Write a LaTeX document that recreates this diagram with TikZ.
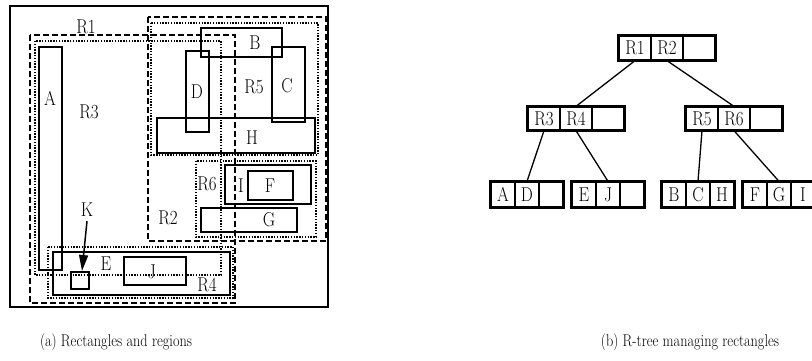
\documentclass[tikz,border=0pt]{standalone}
\usetikzlibrary{arrows.meta}
\newcommand{\nar}[2][0.85]{\scalebox{#1}[1]{#2}}
\begin{document}
\begin{tikzpicture}[x=1pt,y=-1pt,
  lbl/.style={inner sep=0pt,font=\fontsize{20}{23}\selectfont},
  captext/.style={inner sep=0pt,font=\fontsize{17}{20}\selectfont},
  solidrect/.style={draw,line width=2pt},
  dashreg/.style={draw,line width=2pt,dash pattern=on 6pt off 3pt},
  dotreg/.style={draw,line width=2pt,dash pattern=on 1.4pt off 1.4pt},
  frame/.style={draw,line width=1.5pt},
  cellA/.style={draw,line width=1.3pt,inner sep=0pt,minimum width=32pt,minimum height=24pt,font=\fontsize{20}{23}\selectfont},
  cellL/.style={draw,line width=1.3pt,inner sep=0pt,minimum width=24pt,minimum height=25pt,font=\fontsize{20}{23}\selectfont},
  grp/.style={draw,line width=2pt},
  edge/.style={draw,line width=1.3pt}]
\useasboundingbox (0,0) rectangle (812,360);
% ---------- (a) ----------
\draw[frame] (10,6) rectangle (328,307);
% regions (dashed)
\draw[dashreg] (30,35) rectangle (235,303);
\draw[dashreg] (148,17) rectangle (326,241);
% regions (dotted)
\draw[dotreg] (35,41) rectangle (221,275);
\draw[dotreg] (151,23) rectangle (318,155);
\draw[dotreg] (196,161) rectangle (316,237);
\draw[dotreg] (48,247) rectangle (233,298);
% rectangles
\draw[solidrect] (39,47) rectangle (62,270);
\draw[solidrect] (201,28) rectangle (282,57);
\draw[solidrect] (272,47) rectangle (305,122);
\draw[solidrect] (186,51) rectangle (209,132);
\draw[solidrect] (157,118) rectangle (315,153);
\draw[solidrect] (225,165) rectangle (311,204);
\draw[solidrect] (248,171) rectangle (293,200);
\draw[solidrect] (201,208) rectangle (297,232);
\draw[solidrect] (53,252) rectangle (230,295);
\draw[solidrect] (124,257) rectangle (186,285);
\draw[solidrect] (71,272) rectangle (89,289);
% labels
\node[lbl] (lR1) at (86,27) {\nar{R1}};
\node[lbl] (lA) at (50,98) {\nar{A}};
\node[lbl] (lR3) at (89,112) {\nar{R3}};
\node[lbl] (lD) at (197,92) {\nar{D}};
\node[lbl] (lB) at (255,43) {\nar{B}};
\node[lbl] (lR5) at (254,87) {\nar{R5}};
\node[lbl] (lC) at (287,86) {\nar{C}};
\node[lbl] (lH) at (252,138) {\nar{H}};
\node[lbl] (lR6) at (207,184) {\nar{R6}};
\node[lbl] (lI) at (241,186) {\nar{I}};
\node[lbl] (lF) at (270,186) {\nar{F}};
\node[lbl] (lR2) at (168,218) {\nar{R2}};
\node[lbl] (lG) at (269,220) {\nar{G}};
\node[lbl] (lK) at (87,210) {\nar{K}};
\node[lbl] (lE) at (106,264) {\nar{E}};
\node[lbl] (lJ) at (152,272) {\nar{J}};
\node[lbl] (lR4) at (207,285) {\nar{R4}};
\coordinate (ktip) at (82,271);
\draw[line width=1.5pt,-{Triangle[length=16pt,width=9pt]}] (lK.south) ++(0,4) -- (ktip);
% ---------- (b) ----------
\node[cellA] (r1) at (635,48) {\nar{R1}};
\node[cellA] (r2) at (667,48) {\nar{R2}};
\node[cellA] (r0) at (699,48) {};
\draw[grp] (r1.north west) rectangle (r0.south east);
\node[cellA,minimum height=23pt] (r3) at (544,118.5) {\nar{R3}};
\node[cellA,minimum height=23pt] (r4) at (576,118.5) {\nar{R4}};
\node[cellA,minimum height=23pt] (rx) at (608,118.5) {};
\draw[grp] (r3.north west) rectangle (rx.south east);
\node[cellA,minimum height=23pt] (r5) at (702,118.5) {\nar{R5}};
\node[cellA,minimum height=23pt] (r6) at (734,118.5) {\nar{R6}};
\node[cellA,minimum height=23pt] (ry) at (766,118.5) {};
\draw[grp] (r5.north west) rectangle (ry.south east);
% leaves
\node[cellL] (a) at (503,194.5) {\nar{A}};
\node[cellL] (d) at (527,194.5) {\nar{D}};
\node[cellL] (e1) at (551,194.5) {};
\draw[grp] (a.north west) rectangle (e1.south east);
\node[cellL] (e) at (584,194.5) {\nar{E}};
\node[cellL] (j) at (608,194.5) {\nar{J}};
\node[cellL] (e2) at (632,194.5) {};
\draw[grp] (e.north west) rectangle (e2.south east);
\node[cellL] (b) at (674,194.5) {\nar{B}};
\node[cellL] (c) at (698,194.5) {\nar{C}};
\node[cellL] (h) at (722,194.5) {\nar{H}};
\draw[grp] (b.north west) rectangle (h.south east);
\node[cellL] (f) at (755,194.5) {\nar{F}};
\node[cellL] (g) at (779,194.5) {\nar{G}};
\node[cellL] (i) at (803,194.5) {\nar{I}};
\draw[grp] (f.north west) rectangle (i.south east);
% edges
\draw[edge] (r1.south) -- (r4.north);
\draw[edge] (r2.south) -- (r6.north);
\draw[edge] (r3.south) -- (d.north);
\draw[edge] (r4.south) -- (j.north);
\draw[edge] (r5.south) -- (c.north);
\draw[edge] (r6.south) -- (g.north);
% captions
\node[captext] (capa) at (116,342) {\nar[0.84]{(a) Rectangles and regions}};
\node[captext] (capb) at (690,342) {\nar[0.84]{(b) R-tree managing rectangles}};
\end{tikzpicture}
\end{document}
